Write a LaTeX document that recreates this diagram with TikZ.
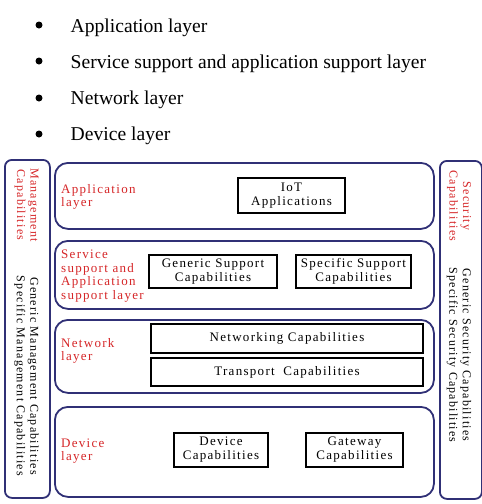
\documentclass[tikz,border=0pt]{standalone}
\usepackage{fontspec}
\setmainfont{Liberation Serif}
\newfontfamily\spc[LetterSpace=10]{Liberation Serif}
\definecolor{navy}{RGB}{48,48,118}
\definecolor{lred}{RGB}{214,38,40}
\begin{document}
\begin{tikzpicture}[x=1pt,y=-1pt,
  sidebox/.style={draw=navy, line width=1.8pt, rounded corners=7pt, inner sep=0pt, anchor=north west},
  layerbox/.style={draw=navy, line width=1.8pt, rounded corners=13pt, inner sep=0pt, anchor=north west},
  capbox/.style={draw=black, line width=2.2pt, inner sep=0pt, align=center, font=\spc\fontsize{13}{14}\selectfont},
  lbl/.style={text=lred, inner sep=0pt, anchor=west, align=left, font=\spc\fontsize{13}{13.5}\selectfont},
  rotred/.style={text=lred, inner sep=0pt, rotate=-90, align=center, font=\spc\fontsize{12}{13.5}\selectfont},
  rotblk/.style={text=black, inner sep=0pt, rotate=-90, align=center, font=\spc\fontsize{12}{13.5}\selectfont},
  dot/.style={circle, fill=black, inner sep=0pt, minimum size=7pt},
  btext/.style={anchor=base west, inner sep=0pt, font=\fontsize{19.6}{22}\selectfont}
]
\useasboundingbox (0,0) rectangle (482,504);
\fill[white] (0,0) rectangle (482,504);

% bullet list
\node[dot] (b1) at (39,25) {};
\node[dot] (b2) at (39,61) {};
\node[dot] (b3) at (39,98) {};
\node[dot] (b4) at (39,134) {};
\node[btext] (t1) at (70.5,32) {Application layer};
\node[btext] (t2) at (70.5,68.3) {Service support and application support layer};
\node[btext] (t3) at (70.5,104) {Network layer};
\node[btext] (t4) at (70.5,140) {Device layer};

% side boxes
\node[sidebox, minimum width=45pt, minimum height=338pt] (mgmt) at (4,159) {};
\node[sidebox, minimum width=42pt, minimum height=338pt] (sec) at (439,160) {};

% layer boxes
\node[layerbox, minimum width=379pt, minimum height=66pt] (app) at (54,162) {};
\node[layerbox, minimum width=379pt, minimum height=68pt] (ssl) at (54,240) {};
\node[layerbox, minimum width=379pt, minimum height=73pt] (net) at (54,319) {};
\node[layerbox, minimum width=379pt, minimum height=90pt] (devl) at (54,406) {};

% layer labels
\node[lbl] (appl) at (61,197) {Application\\layer};
\node[lbl] (ssll) at (61,276) {Service\\support and\\Application\\support layer};
\node[lbl] (netl) at (61,351) {Network\\layer};
\node[lbl] (devll) at (61,451) {Device\\layer};

% capability boxes
\node[capbox, minimum width=107pt, minimum height=35pt] (iot) at (291.5,195.5) {IoT\\Applications};
\node[capbox, minimum width=128pt, minimum height=33pt] (gsc) at (213,271.5) {Generic Support\\Capabilities};
\node[capbox, minimum width=115pt, minimum height=33pt] (ssc) at (353.5,271.5) {Specific Support\\Capabilities};
\node[capbox, minimum width=272pt, minimum height=29pt] (nwc) at (287,338.5) {Networking Capabilities};
\node[capbox, minimum width=272pt, minimum height=28pt] (trc) at (287,372) {Transport\hspace{4pt} Capabilities};
\node[capbox, minimum width=94pt, minimum height=34pt] (dvc) at (221,450) {Device\\Capabilities};
\node[capbox, minimum width=97pt, minimum height=34pt] (gwc) at (354.5,450) {Gateway\\Capabilities};

% side texts
\node[rotred] (mgt) at (26.5,205) {Management\\Capabilities};
\node[rotblk] (mgb) at (26.5,376) {Generic Management Capabilities\\Specific Management Capabilities};
\node[rotred] (sect) at (459,206) {Security\\Capabilities};
\node[rotblk] (secb) at (459,355) {Generic Security Capabilities\\Specific Security Capabilities};
\end{tikzpicture}
\end{document}
